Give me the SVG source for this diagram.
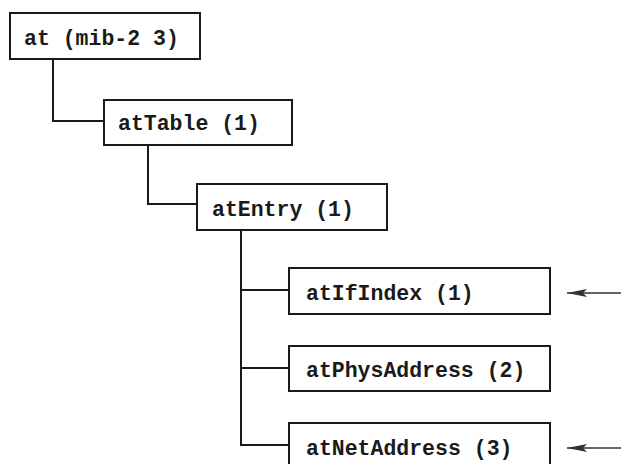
<svg xmlns="http://www.w3.org/2000/svg" width="621" height="464" viewBox="0 0 621 464">
  <style>
    .box { fill: #fff; stroke: #1a1a1a; stroke-width: 2; }
    .lbl { font-family: "Liberation Mono", "DejaVu Sans Mono", monospace; font-weight: bold; font-size: 21.5px; fill: #1a1a1a; }
    .wire { fill: none; stroke: #1a1a1a; stroke-width: 2; }
    .ptr { fill: none; stroke: #333; stroke-width: 1.6; }
  </style>
  <defs>
    <!-- left-pointing arrowhead, tip at the line end -->
    <marker id="head" viewBox="0 0 20 8" refX="20" refY="4" markerWidth="20" markerHeight="8" markerUnits="userSpaceOnUse" orient="auto">
      <path d="M20,4 L0,0 L4,4 L0,8 Z" fill="#333"/>
    </marker>
  </defs>
  <rect width="621" height="464" fill="#fff"/>

  <g id="connectors">
    <path class="wire" d="M53,59 V121 H104"/>
    <path class="wire" d="M148,145 V204 H197"/>
    <path class="wire" d="M241,230 V445 H289"/>
    <path class="wire" d="M241,290 H289"/>
    <path class="wire" d="M241,368 H289"/>
    <line class="ptr" x1="621" y1="293" x2="567" y2="293" marker-end="url(#head)"/>
    <line class="ptr" x1="621" y1="448" x2="567" y2="448" marker-end="url(#head)"/>
  </g>

  <g id="at">
    <rect class="box" x="10" y="13" width="190" height="46"/>
    <text class="lbl" x="24" y="45">at (mib-2 3)</text>
  </g>
  <g id="atTable">
    <rect class="box" x="104" y="100" width="188" height="45"/>
    <text class="lbl" x="118" y="130">atTable (1)</text>
  </g>
  <g id="atEntry">
    <rect class="box" x="197" y="184" width="190" height="46"/>
    <text class="lbl" x="212" y="216">atEntry (1)</text>
  </g>
  <g id="atIfIndex">
    <rect class="box" x="289" y="268" width="261" height="46"/>
    <text class="lbl" x="306" y="300">atIfIndex (1)</text>
  </g>
  <g id="atPhysAddress">
    <rect class="box" x="289" y="346" width="261" height="45"/>
    <text class="lbl" x="306" y="377">atPhysAddress (2)</text>
  </g>
  <g id="atNetAddress">
    <rect class="box" x="289" y="423" width="261" height="50"/>
    <text class="lbl" x="306" y="455">atNetAddress (3)</text>
  </g>
</svg>
